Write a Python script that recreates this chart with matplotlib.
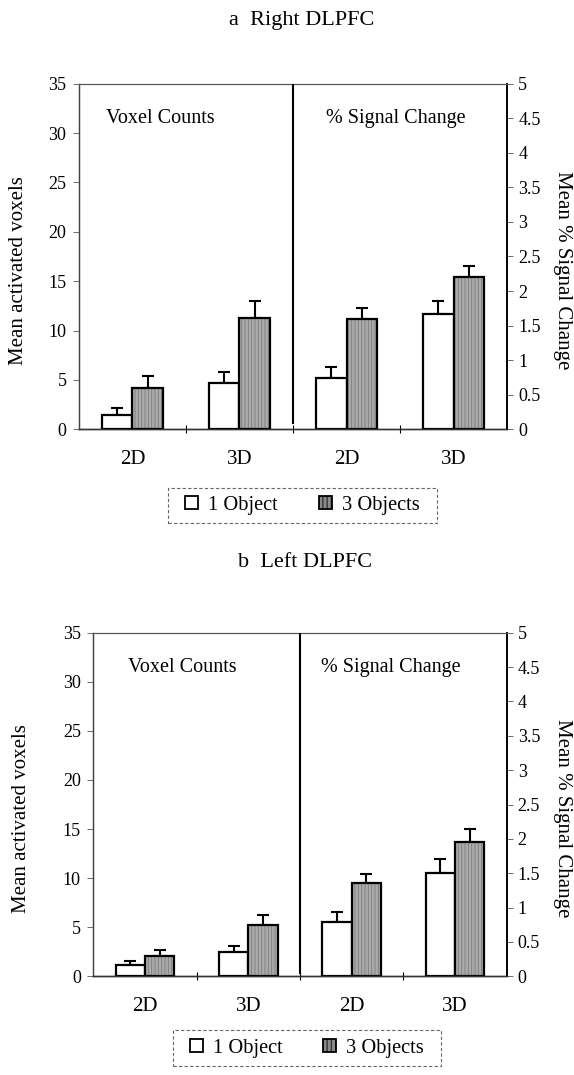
import matplotlib
matplotlib.use("Agg")
import matplotlib.pyplot as plt
import numpy as np
from matplotlib.patches import Patch, Rectangle

plt.rcParams['font.family'] = ['Liberation Serif', 'DejaVu Serif']
plt.rcParams['hatch.linewidth'] = 0.6

# ---- data ----
groups = ["2D", "3D", "2D", "3D"]
series = ["1 Object", "3 Objects"]

# Panel a: Right DLPFC
a_voxel_1obj = [1.45, 4.72]
a_voxel_1obj_err = [0.68, 1.11]
a_voxel_3obj = [4.21, 11.24]
a_voxel_3obj_err = [1.22, 1.75]
a_signal_1obj = [0.74, 1.67]
a_signal_1obj_err = [0.16, 0.18]
a_signal_3obj = [1.60, 2.20]
a_signal_3obj_err = [0.15, 0.16]

# Panel b: Left DLPFC
b_voxel_1obj = [1.15, 2.51]
b_voxel_1obj_err = [0.41, 0.61]
b_voxel_3obj = [2.10, 5.26]
b_voxel_3obj_err = [0.55, 0.98]
b_signal_1obj = [0.79, 1.50]
b_signal_1obj_err = [0.14, 0.21]
b_signal_3obj = [1.36, 1.96]
b_signal_3obj_err = [0.13, 0.18]

left_ticks = [0, 5, 10, 15, 20, 25, 30, 35]
right_ticks = [0, 0.5, 1, 1.5, 2, 2.5, 3, 3.5, 4, 4.5, 5]
right_ticklabels = ["0", "0.5", "1", "1.5", "2", "2.5", "3", "3.5", "4", "4.5", "5"]

FW, FH = 574, 1075
fig = plt.figure(figsize=(FW / 100, FH / 100), dpi=100)

GRAY = "#ababab"
W = 0.285


def draw_bars(ax, xs, v1, e1, v3, e3):
    x = np.array(xs, dtype=float)
    ax.bar(x - W / 2, v1, width=W, facecolor="white", edgecolor="black", linewidth=1.6, zorder=3)
    ax.bar(x + W / 2, v3, width=W, facecolor=GRAY, edgecolor="#7a7a7a", hatch="|||||", linewidth=0, zorder=3)
    ax.bar(x + W / 2, v3, width=W, fill=False, edgecolor="black", linewidth=1.6, zorder=4)
    ax.errorbar(x - W / 2, v1, yerr=[np.zeros(len(v1)), e1], fmt="none", ecolor="black",
                elinewidth=1.5, capsize=4.5, capthick=1.5, zorder=2)
    ax.errorbar(x + W / 2, v3, yerr=[np.zeros(len(v3)), e3], fmt="none", ecolor="black",
                elinewidth=1.5, capsize=4.5, capthick=1.5, zorder=2)


def panel(rect, title, title_xy, vox1, vox1e, vox3, vox3e, sig1, sig1e, sig3, sig3e,
          leg_box, divider_bottom, lab_x_left, lab_x_right, txt_left_x, txt_right_x):
    ax = fig.add_axes(rect)
    ax2 = ax.twinx()
    ax.set_xlim(-0.5, 3.5)
    ax.set_ylim(0, 35)
    ax2.set_ylim(0, 5)
    ax.set_zorder(ax2.get_zorder() + 1)
    ax.patch.set_visible(False)

    draw_bars(ax, [0, 1], vox1, vox1e, vox3, vox3e)
    draw_bars(ax2, [2, 3], sig1, sig1e, sig3, sig3e)

    ax.axvline(1.5, ymin=divider_bottom, ymax=1, color="black", linewidth=1.5, zorder=5)

    ax.set_yticks(left_ticks)
    ax.set_yticklabels([str(t) for t in left_ticks])
    ax2.set_yticks(right_ticks)
    ax2.set_yticklabels(right_ticklabels)

    ax.set_xticks([0, 1, 2, 3])
    ax.set_xticklabels(groups)
    ax.set_xticks([0.5, 1.5, 2.5], minor=True)
    ax.tick_params(axis="x", which="major", length=0, pad=15, labelsize=15)
    ax.tick_params(axis="x", which="minor", length=6, direction="inout", width=0.8)
    ax.tick_params(axis="y", length=4, width=0.6, labelsize=13, pad=5, color="#555555")
    ax2.tick_params(axis="y", length=4, width=0.6, labelsize=13, pad=4, color="#555555")

    for a in (ax, ax2):
        a.spines["top"].set_color("#555555")
        a.spines["top"].set_linewidth(0.8)
        a.spines["top"].set_linestyle((0, (3, 1)))
        a.spines["left"].set_color("#444444")
        a.spines["left"].set_linewidth(0.9)
        a.spines["right"].set_color("black")
        a.spines["right"].set_linewidth(1.2)
        a.spines["bottom"].set_color("#333333")
        a.spines["bottom"].set_linewidth(1.0)

    ax.set_ylabel("Mean activated voxels", fontsize=15)
    ax.yaxis.set_label_coords(lab_x_left, 0.46)
    ax2.set_ylabel("Mean % Signal Change", fontsize=15, rotation=270, va="center")
    ax2.yaxis.set_label_coords(lab_x_right, 0.46)

    ax.text(txt_left_x, 0.90, "Voxel Counts", transform=ax.transAxes, fontsize=14.5,
            ha="center", va="center")
    ax.text(txt_right_x, 0.90, "% Signal Change", transform=ax.transAxes, fontsize=14.5,
            ha="center", va="center")

    fig.text(title_xy[0], title_xy[1], title, fontsize=16, ha="center", va="center")

    # legend box (dashed frame) in figure pixels
    x0, y0, x1, y1 = leg_box
    rect_patch = Rectangle((x0 / FW, 1 - y1 / FH), (x1 - x0) / FW, (y1 - y0) / FH,
                           transform=fig.transFigure, fill=False, edgecolor="#666666",
                           linestyle=(0, (3, 2)), linewidth=0.8)
    fig.add_artist(rect_patch)
    handles = [Patch(facecolor="white", edgecolor="black", linewidth=1.3),
               Patch(facecolor="#8a8a8a", edgecolor="black", linewidth=1.3, hatch="||||")]
    fig.legend(handles, series, loc="center",
               bbox_to_anchor=((x0 + x1) / 2 / FW, 1 - (y0 + y1) / 2 / FH),
               ncol=2, frameon=False, fontsize=14.7,
               handlelength=0.62, handleheight=0.62, handletextpad=0.5,
               columnspacing=2.0, borderpad=0.2)
    return ax, ax2


panel([0.1376, 0.6007, 0.7457, 0.3215], "a  Right DLPFC", (0.525, 0.981),
      a_voxel_1obj, a_voxel_1obj_err, a_voxel_3obj, a_voxel_3obj_err,
      a_signal_1obj, a_signal_1obj_err, a_signal_3obj, a_signal_3obj_err,
      (168, 488, 437, 523), 0.018, -0.12, 1.13, 0.19, 0.74)

panel([0.1627, 0.0918, 0.7199, 0.3196], "b  Left DLPFC", (0.532, 0.4765),
      b_voxel_1obj, b_voxel_1obj_err, b_voxel_3obj, b_voxel_3obj_err,
      b_signal_1obj, b_signal_1obj_err, b_signal_3obj, b_signal_3obj_err,
      (173, 1030, 441, 1066), 0.01, -0.15, 1.135, 0.215, 0.72)

fig.savefig("out.png", dpi=100)
